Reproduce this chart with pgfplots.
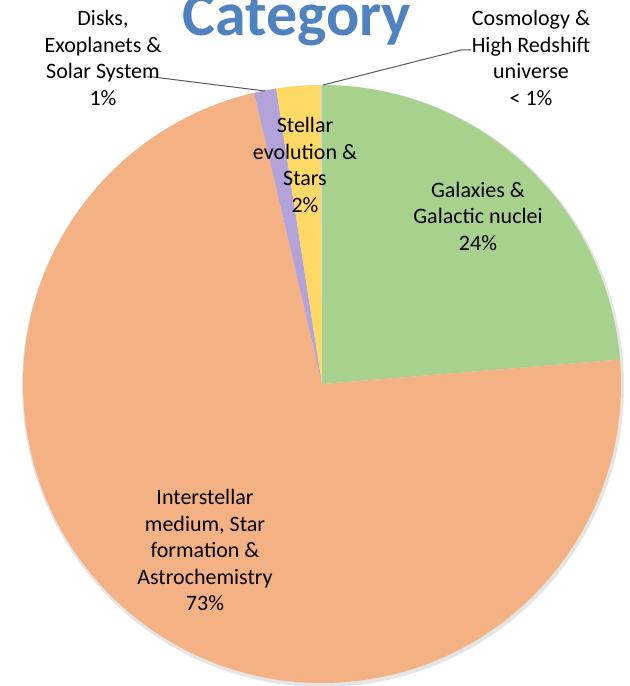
\documentclass[border=0pt]{standalone}
\usepackage{fontspec}
\setmainfont{Carlito}
\usepackage{pgfplots}
\pgfplotsset{compat=1.18}

\definecolor{catBlue}{RGB}{80,130,192}
\definecolor{sliceGreen}{RGB}{169,209,142}
\definecolor{sliceOrange}{RGB}{244,177,131}
\definecolor{slicePurple}{RGB}{180,163,219}
\definecolor{sliceYellow}{RGB}{255,217,102}
\definecolor{sliceBlue}{RGB}{189,215,238}
\definecolor{leaderGray}{RGB}{89,89,89}

\tikzset{
  lbl/.style={align=center, inner sep=0pt, text=black,
    font=\fontsize{11}{13.25}\selectfont},
  leader/.style={draw=leaderGray, line width=0.5pt}
}

\begin{document}
\begin{tikzpicture}
\begin{axis}[
  hide axis, scale only axis,
  width=314.5pt, height=343pt,
  xmin=0, xmax=629, ymin=-686, ymax=0,
  clip=false,
]
\def\pieR{149.5pt}
\def\startang{90}
% soft shadow under the pie
\fill[black, opacity=0.10] (axis cs:323,-386) circle[radius=150.5pt];
% shares in percent, clockwise from 12 o'clock
\foreach \share/\col in {23.7/sliceGreen, 72.65/sliceOrange, 1.2/slicePurple,
                         2.4/sliceYellow, 0.05/sliceBlue}{
  \pgfmathsetmacro\endang{\startang-3.6*\share}
  \edef\tmp{\noexpand\fill[\col] (axis cs:322,-384) -- ++(\startang:\noexpand\pieR)
    arc[start angle=\startang, end angle=\endang, radius=\noexpand\pieR] -- cycle;}
  \tmp
  \xdef\startang{\endang}
}

\node[font=\fontsize{31}{37}\selectfont\bfseries, text=catBlue, anchor=base]
  at (axis cs:297,-36) {Category};

\draw[leader] (axis cs:147,-77) -- (axis cs:153,-77) -- (axis cs:265,-91);
\draw[leader] (axis cs:471,-50) -- (axis cs:461,-50) -- (axis cs:323,-85);

\node[lbl] at (axis cs:103,-58) {Disks,\\Exoplanets \&\\Solar System\\1\%};
\node[lbl] at (axis cs:531,-58) {Cosmology \&\\High Redshift\\universe\\< 1\%};
\node[lbl] at (axis cs:305,-165) {Stellar\\evolution \&\\Stars\\2\%};
\node[lbl] at (axis cs:478,-216) {Galaxies \&\\Galactic nuclei\\24\%};
\node[lbl] at (axis cs:205,-550) {Interstellar\\medium, Star\\formation \&\\Astrochemistry\\73\%};
\end{axis}
\pgfresetboundingbox
\path (current axis.south west) rectangle (current axis.north east);
\end{tikzpicture}
\end{document}
